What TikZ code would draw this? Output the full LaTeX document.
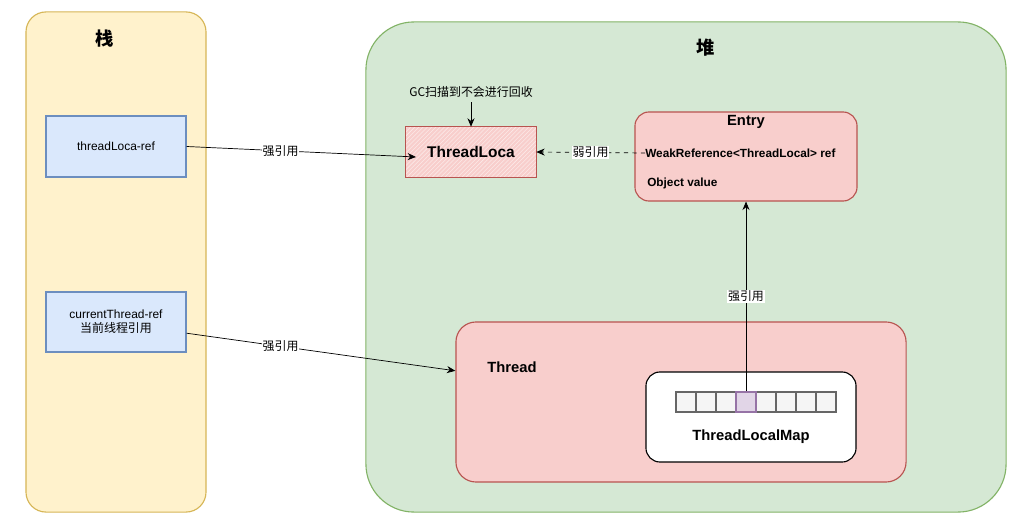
\documentclass[tikz,border=0pt]{standalone}
\usepackage{fontspec}
\setmainfont{Liberation Sans}
\newfontfamily\cjk{Noto Sans CJK SC}
\usetikzlibrary{arrows.meta,patterns}

\definecolor{stackfill}{HTML}{FFF2CC}
\definecolor{stackline}{HTML}{D6B656}
\definecolor{heapfill}{HTML}{D5E8D4}
\definecolor{heapline}{HTML}{82B366}
\definecolor{reffill}{HTML}{DAE8FC}
\definecolor{refline}{HTML}{6C8EBF}
\definecolor{objfill}{HTML}{F8CECC}
\definecolor{objline}{HTML}{B85450}
\definecolor{cellfill}{HTML}{F5F5F5}
\definecolor{cellline}{HTML}{666666}
\definecolor{slotfill}{HTML}{E1D5E7}
\definecolor{slotline}{HTML}{9673A6}

\tikzset{
  area/.style={draw, line width=0.8pt, rounded corners=0.5cm},
  refbox/.style={draw=refline, fill=reffill, line width=0.8pt, minimum width=3.5cm, minimum height=1.5cm, align=center, font=\fontsize{8.5}{10}\selectfont},
  objbox/.style={draw=objline, fill=objfill, line width=0.8pt},
  cell/.style={draw=cellline, fill=cellfill, line width=0.8pt, minimum size=0.5cm, inner sep=0pt},
  reflabel/.style={fill=white, inner sep=0.5pt, font=\cjk\fontsize{8.5}{10}\selectfont},
  strong/.style={-{Stealth[length=6pt,width=5pt]}, line width=0.5pt},
}

\begin{document}
\begin{tikzpicture}[x=0.025cm, y=-0.025cm]
    \useasboundingbox (0,0) rectangle (1032,525);

    % stack and heap
    \node[area, draw=stackline, fill=stackfill, minimum width=4.5cm, minimum height=12.5cm] (stack) at (116,262) {};
    \node[font=\cjk\bfseries\fontsize{13}{15}\selectfont] (stacktitle) at (105,39) {栈};
    \node[area, draw=heapline, fill=heapfill, rounded corners=1.2cm, minimum width=16cm, minimum height=12.25cm] (heap) at (686,267) {};
    \node[font=\cjk\bfseries\fontsize{13}{15}\selectfont] (heaptitle) at (706,48) {堆};

    % references on the stack
    \node[refbox, minimum height=1.525cm] (tlref) at (116,146.5) {threadLoca-ref};
    \node[refbox] (curref) at (116,322) {currentThread-ref\\{\cjk 当前线程引用}};

    % ThreadLocal object
    \node[minimum width=3.25cm, minimum height=1.25cm] (tl) at (471,152) {};
    \fill[objfill] (tl.south west) rectangle (tl.north east);
    \path[pattern=north east lines, pattern color=objfill!45!white] (tl.south west) rectangle (tl.north east);
    \draw[objline, line width=1pt] (tl.south west) rectangle (tl.north east);
    \node[font=\bfseries\fontsize{11}{13}\selectfont] (tltext) at (471,152) {ThreadLoca};
    \node[font=\cjk\fontsize{8.5}{10}\selectfont] (gc) at (471,92) {GC扫描到不会进行回收};

    % Entry
    \node[objbox, rounded corners=0.35cm, minimum width=5.55cm, minimum height=2.225cm] (entry) at (746,156.5) {};
    \node[font=\bfseries\fontsize{10.5}{12}\selectfont] (entrytitle) at (746,122) {Entry};
    \node[anchor=west, inner sep=0pt, font=\bfseries\fontsize{8.4}{10}\selectfont] (wref) at (645,153) {WeakReference<ThreadLocal> ref};
    \node[anchor=west, inner sep=0pt, font=\bfseries\fontsize{8.4}{10}\selectfont] (oval) at (647,183) {Object value};

    % Thread and its map
    \node[objbox, rounded corners=0.5cm, minimum width=11.25cm, minimum height=4cm] (thr) at (681,402) {};
    \node[font=\bfseries\fontsize{10.5}{12}\selectfont] (thrtext) at (512,367) {Thread};
    \node[draw, fill=white, line width=0.8pt, rounded corners=0.35cm, minimum width=5.25cm, minimum height=2.25cm] (map) at (751,417) {};
    \foreach \i in {0,...,7}
        \node[cell] (c\i) at (686+20*\i,402) {};
    \node[cell, draw=slotline, fill=slotfill] (c3) at (746,402) {};
    \node[font=\bfseries\fontsize{10.5}{12}\selectfont] (maptext) at (751,437) {ThreadLocalMap};

    % references
    \coordinate (tlin) at (416,157);
    \draw[strong] (tlref.east) -- node[reflabel, pos=0.41] {强引用} (tlin);
    \draw[strong] ([yshift=-0.28cm]curref.east) -- node[reflabel, pos=0.35] {强引用} ([yshift=0.78cm]thr.west);
    \draw[strong, dashed] (wref.west) -- node[reflabel] {弱引用} (tl.east);
    \draw[strong] (gc.south) -- (tl.north);
    \draw[strong] (c3.north) -- node[reflabel, pos=0.5] {强引用} (entry.south);
\end{tikzpicture}
\end{document}
